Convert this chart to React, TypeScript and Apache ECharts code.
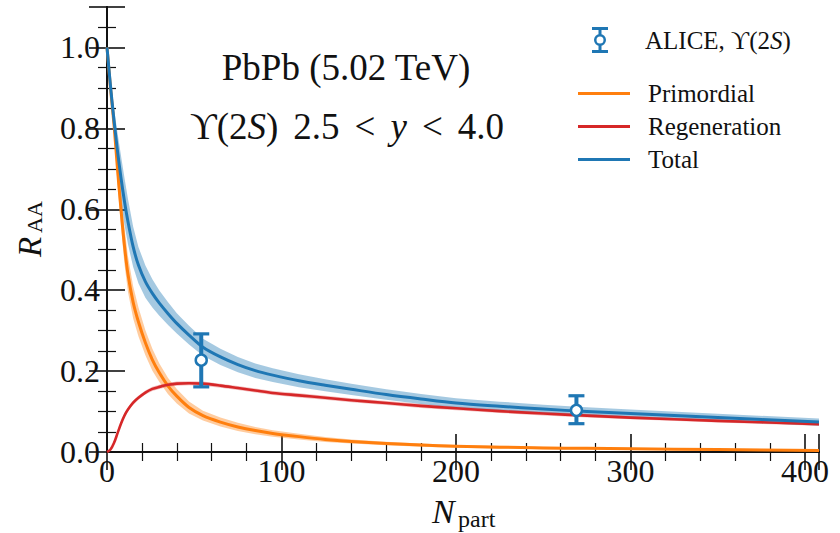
import { useEffect, useRef } from "react";
import * as echarts from "echarts";

// Number of participants grid shared by all model curves
const nPart = [0, 2, 4, 6, 8, 10, 12, 15, 18, 22, 26, 30, 35, 40, 47, 55, 65, 75, 85, 95, 110, 125, 140, 160, 180, 200, 225, 250, 275, 300, 350, 408];

// Model curves (central values) and half-widths of their uncertainty bands
const primordial = [1.0, 0.9, 0.81, 0.7, 0.6, 0.51, 0.44, 0.37, 0.322, 0.27, 0.228, 0.196, 0.163, 0.138, 0.11, 0.09, 0.074, 0.062, 0.053, 0.046, 0.038, 0.031, 0.026, 0.021, 0.017, 0.014, 0.012, 0.01, 0.009, 0.008, 0.006, 0.004];
const primordialErr = [0, 0.012, 0.025, 0.035, 0.042, 0.045, 0.044, 0.04, 0.036, 0.031, 0.027, 0.023, 0.02, 0.018, 0.015, 0.012, 0.011, 0.01, 0.009, 0.008, 0.007, 0.006, 0.005, 0.0045, 0.004, 0.0035, 0.0032, 0.003, 0.0027, 0.0025, 0.0022, 0.002];
const regeneration = [0.0, 0.006, 0.022, 0.046, 0.07, 0.09, 0.105, 0.122, 0.134, 0.147, 0.156, 0.161, 0.166, 0.169, 0.17, 0.169, 0.164, 0.158, 0.152, 0.146, 0.14, 0.134, 0.128, 0.121, 0.114, 0.108, 0.101, 0.095, 0.09, 0.085, 0.077, 0.069];
const regenerationErr = [0, 0.001, 0.002, 0.003, 0.004, 0.004, 0.005, 0.005, 0.005, 0.005, 0.005, 0.005, 0.005, 0.005, 0.005, 0.005, 0.005, 0.005, 0.005, 0.005, 0.005, 0.005, 0.005, 0.005, 0.005, 0.0045, 0.0045, 0.0045, 0.0045, 0.004, 0.004, 0.004];
const total = [1.0, 0.905, 0.82, 0.745, 0.678, 0.62, 0.57, 0.507, 0.462, 0.421, 0.392, 0.368, 0.342, 0.318, 0.289, 0.259, 0.235, 0.216, 0.201, 0.19, 0.176, 0.165, 0.155, 0.142, 0.131, 0.121, 0.113, 0.106, 0.1, 0.095, 0.085, 0.074];
const totalErr = [0, 0.015, 0.03, 0.045, 0.055, 0.058, 0.056, 0.05, 0.045, 0.04, 0.035, 0.031, 0.028, 0.025, 0.023, 0.021, 0.02, 0.019, 0.018, 0.017, 0.016, 0.015, 0.014, 0.013, 0.0125, 0.012, 0.0115, 0.011, 0.0105, 0.01, 0.0095, 0.009];

// ALICE measurements with error bars
const aliceN = [54, 269];
const aliceRaa = [0.227, 0.103];
const aliceLow = [0.161, 0.07];
const aliceHigh = [0.292, 0.139];

const BLUE = "#1f77b4";
const ORANGE = "#ff7f0e";
const RED = "#d62728";
const INK = "#111111";
const SERIF = '"Liberation Serif", "DejaVu Serif", serif';
const UPS = "\u03D2";
const ALICE_NAME = `ALICE, ${UPS}(2S)`;

// Error-bar glyph: caps, stem and hollow circle
const ALICE_ICON =
  "path://M0 0H16V3H0Z M6.5 3H9.5V7.2H6.5Z M6.5 18.8H9.5V23H6.5Z M0 23H16V26H0Z " +
  "M8 7A6 6 0 1 1 8 19A6 6 0 1 1 8 7Z M8 9.5A3.5 3.5 0 1 0 8 16.5A3.5 3.5 0 1 0 8 9.5Z";
// Plain line glyph for the model curves
const LINE_ICON = "path://M0 0H52V3H0Z";

const SMOOTH = 0.3;

const pairs = (ys: number[]) => nPart.map((n, i) => [n, ys[i]]);

function band(id: string, center: number[], err: number[], color: string, opacity: number) {
  return {
    type: "custom",
    id,
    silent: true,
    clip: true,
    data: [[0, 0]],
    renderItem: (_p: any, api: any) => {
      const upper = nPart.map((n, i) => api.coord([n, center[i] + err[i]]));
      const lower = nPart.map((n, i) => api.coord([n, Math.max(0, center[i] - err[i])]));
      return {
        type: "group",
        children: [
          {
            // filled region between the two edges
            type: "polygon",
            shape: { points: upper.concat(lower.slice().reverse()) },
            style: { fill: color, opacity },
          },
        ],
      };
    },
  };
}

function curve(name: string, ys: number[], color: string, width: number) {
  return {
    type: "line",
    name,
    data: pairs(ys),
    symbol: "none",
    smooth: SMOOTH,
    clip: true,
    lineStyle: { color, width, join: "round" },
    itemStyle: { color },
  };
}

const tickFont = { fontFamily: SERIF, fontSize: 32, color: INK };

function xAxisCfg(position: "bottom" | "top", labels: boolean) {
  return {
    type: "value",
    position,
    min: 0,
    max: 408,
    interval: 100,
    axisLine: { show: true, lineStyle: { color: INK, width: 2 } },
    axisTick: { show: true, inside: true, length: 18, lineStyle: { color: INK, width: 1.6 } },
    minorTick: { show: true, splitNumber: 5, length: 9, lineStyle: { color: INK, width: 1.2 } },
    splitLine: { show: false },
    minorSplitLine: { show: false },
    axisLabel: { show: labels, margin: 3, showMaxLabel: false, ...tickFont },
  };
}

function yAxisCfg(position: "left" | "right", labels: boolean) {
  return {
    type: "value",
    position,
    min: 0,
    max: 1.1,
    interval: 0.2,
    axisLine: { show: true, lineStyle: { color: INK, width: 2 } },
    axisTick: { show: true, inside: true, length: 18, lineStyle: { color: INK, width: 1.6 } },
    minorTick: { show: true, splitNumber: 4, length: 9, lineStyle: { color: INK, width: 1.2 } },
    splitLine: { show: false },
    minorSplitLine: { show: false },
    axisLabel: {
      show: labels,
      margin: 7,
      showMaxLabel: false,
      formatter: (v: number) => v.toFixed(1),
      ...tickFont,
    },
  };
}

const legendRich = {
  sp: { width: 13, fontSize: 25, fontFamily: SERIF },
  wide: { width: 32, fontSize: 25, fontFamily: SERIF },
  n: { fontSize: 25, fontFamily: SERIF, color: INK },
  i: { fontSize: 25, fontFamily: SERIF, fontStyle: "italic", color: INK },
};

export default function App() {
  const ref = useRef<HTMLDivElement>(null);

  useEffect(() => {
    document.body.style.margin = "0";
    if (!ref.current) return;
    const chart = echarts.init(ref.current, null, { renderer: "svg" });

    const option: any = {
      animation: false,
      backgroundColor: "#ffffff",
      grid: { left: 107, right: 21, top: 7, bottom: 81, outerBoundsMode: "none" },
      xAxis: [xAxisCfg("bottom", true), xAxisCfg("top", false)],
      yAxis: [yAxisCfg("left", true), yAxisCfg("right", false)],
      legend: [
        {
          data: [{ name: ALICE_NAME, icon: ALICE_ICON }],
          orient: "vertical",
          left: 592,
          top: 27,
          padding: 0,
          itemWidth: 16,
          itemHeight: 26,
          symbolKeepAspect: true,
          selectedMode: false,
          formatter: () => `{wide| }{n|ALICE, ${UPS}(2}{i|S}{n|)}`,
          textStyle: { rich: legendRich },
        },
        {
          data: [
            { name: "Primordial", icon: LINE_ICON },
            { name: "Regeneration", icon: LINE_ICON },
            { name: "Total", icon: LINE_ICON },
          ],
          orient: "vertical",
          left: 578,
          top: 81,
          padding: 0,
          itemWidth: 52,
          itemHeight: 26,
          itemGap: 8,
          symbolKeepAspect: true,
          selectedMode: false,
          formatter: (name: string) => `{sp| }{n|${name}}`,
          textStyle: { rich: legendRich },
        },
      ],
      series: [
        band("primordial-band", primordial, primordialErr, ORANGE, 0.4),
        curve("Primordial", primordial, ORANGE, 3),
        band("regeneration-band", regeneration, regenerationErr, RED, 0.3),
        curve("Regeneration", regeneration, RED, 2.6),
        band("total-band", total, totalErr, BLUE, 0.4),
        curve("Total", total, BLUE, 3),
        {
          type: "custom",
          name: ALICE_NAME,
          itemStyle: { color: BLUE },
          encode: { x: 0, y: 1 },
          data: aliceN.map((n, i) => [n, aliceRaa[i], aliceLow[i], aliceHigh[i]]),
          z: 5,
          renderItem: (_p: any, api: any) => {
            const c = api.coord([api.value(0), api.value(1)]);
            const lo = api.coord([api.value(0), api.value(2)]);
            const hi = api.coord([api.value(0), api.value(3)]);
            const cap = 8;
            return {
              type: "group",
              children: [
                { type: "line", shape: { x1: c[0], y1: hi[1], x2: c[0], y2: lo[1] }, style: { stroke: BLUE, lineWidth: 4 } },
                { type: "line", shape: { x1: c[0] - cap, y1: hi[1], x2: c[0] + cap, y2: hi[1] }, style: { stroke: BLUE, lineWidth: 3.2 } },
                { type: "line", shape: { x1: c[0] - cap, y1: lo[1], x2: c[0] + cap, y2: lo[1] }, style: { stroke: BLUE, lineWidth: 3.2 } },
                { type: "circle", shape: { cx: c[0], cy: c[1], r: 5.5 }, style: { fill: "#ffffff", stroke: BLUE, lineWidth: 2.5 } },
              ],
            };
          },
        },
      ],
      graphic: [
        {
          type: "text",
          x: 346,
          y: 67.5,
          style: {
            text: "PbPb (5.02 TeV)",
            fontFamily: SERIF,
            fontSize: 37,
            fill: INK,
            align: "center",
            verticalAlign: "middle",
          },
        },
        {
          type: "text",
          x: 347,
          y: 126,
          style: {
            text: `{n|${UPS}(2}{i|S}{n|)}{g| }{n|2.5}{g| }{n|<}{g| }{i|y}{g| }{n|<}{g| }{n|4.0}`,
            rich: {
              n: { fontFamily: SERIF, fontSize: 37, fill: INK },
              i: { fontFamily: SERIF, fontSize: 37, fontStyle: "italic", fill: INK },
              g: { fontFamily: SERIF, fontSize: 37, width: 15 },
            },
            align: "center",
            verticalAlign: "middle",
          },
        },
        {
          type: "group",
          x: 30,
          y: 245,
          rotation: Math.PI / 2,
          children: [
            {
              type: "text",
              x: -12,
              y: 0,
              style: { text: "R", fontFamily: SERIF, fontSize: 33, fontStyle: "italic", fill: INK, align: "left", verticalAlign: "middle" },
            },
            {
              type: "text",
              x: 12,
              y: 4,
              style: { text: "AA", fontFamily: SERIF, fontSize: 22, fill: INK, align: "left", verticalAlign: "middle" },
            },
          ],
        },
        {
          type: "text",
          x: 432,
          y: 511.5,
          style: { text: "N", fontFamily: SERIF, fontSize: 34, fontStyle: "italic", fill: INK, align: "left", verticalAlign: "middle" },
        },
        {
          type: "text",
          x: 458,
          y: 519,
          style: { text: "part", fontFamily: SERIF, fontSize: 24, fill: INK, align: "left", verticalAlign: "middle" },
        },
      ],
    };

    chart.setOption(option);
    return () => chart.dispose();
  }, []);

  return <div ref={ref} style={{ width: 840, height: 533 }} />;
}
